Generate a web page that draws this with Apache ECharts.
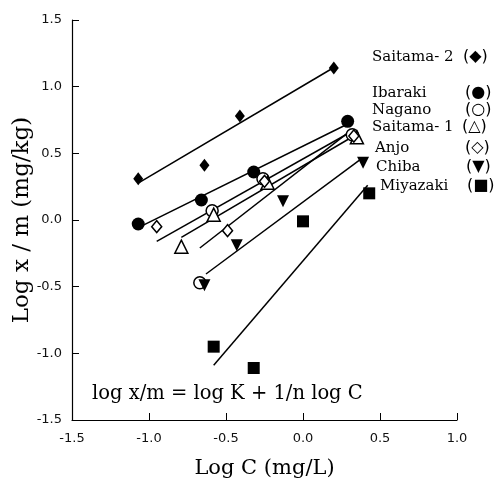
<!DOCTYPE html>
<html>
<head>
<meta charset="utf-8">
<script src="https://cdn.jsdelivr.net/npm/echarts@6/dist/echarts.min.js"></script>
<style>
  html, body { margin: 0; padding: 0; background: #fff; }
  #chart { width: 496px; height: 480px; }
</style>
</head>
<body>
<div id="chart"></div>
<script>
// sites in legend order
var sites = ["Saitama- 2", "Ibaraki", "Nagano", "Saitama- 1", "Anjo", "Chiba", "Miyazaki"];
var marks = ["◆", "●", "○", "△", "◇", "▼", "■"];

// measured points, [log C, log x/m]
var saitama2 = [[-1.07, 0.31], [-0.64, 0.41], [-0.41, 0.78], [0.20, 1.14]];
var ibaraki = [[-1.07, -0.03], [-0.66, 0.15], [-0.32, 0.36], [0.29, 0.74]];
var nagano = [[-0.67, -0.47], [-0.59, 0.07], [-0.26, 0.31], [0.32, 0.64]];
var saitama1 = [[-0.79, -0.20], [-0.58, 0.04], [-0.23, 0.28], [0.35, 0.62]];
var anjo = [[-0.95, -0.05], [-0.49, -0.08], [-0.25, 0.29], [0.33, 0.63]];
var chiba = [[-0.64, -0.49], [-0.43, -0.19], [-0.13, 0.14], [0.39, 0.43]];
var miyazaki = [[-0.58, -0.95], [-0.32, -1.11], [0.00, -0.01], [0.43, 0.20]];

// fitted lines, two ends each
var fitSaitama2 = [[-1.065, 0.28], [0.195, 1.14]];
var fitIbaraki = [[-1.04, -0.04], [0.29, 0.72]];
var fitNagano = [[-0.67, -0.21], [0.32, 0.68]];
var fitSaitama1 = [[-0.79, -0.13], [0.33, 0.63]];
var fitAnjo = [[-0.95, -0.16], [0.31, 0.66]];
var fitChiba = [[-0.63, -0.405], [0.38, 0.46]];
var fitMiyazaki = [[-0.58, -1.09], [0.42, 0.26]];

var serif = "'DejaVu Serif', 'Liberation Serif', serif";

var myChart = echarts.init(document.getElementById("chart"));

function pts(data, symbol, size, filled, rotate) {
    return {
        type: "scatter",
        data: data,
        symbol: symbol,
        symbolSize: size,
        symbolRotate: rotate || 0,
        itemStyle: {
            color: filled ? "#000" : "#fff",
            borderColor: "#000",
            borderWidth: filled ? 0 : 1.5,
            opacity: 1
        },
        z: 3
    };
}
function fit(data) {
    return {
        type: "line",
        data: data,
        symbol: "none",
        lineStyle: { color: "#000", width: 1.5 },
        z: 2
    };
}

var texts = [];
var legendY = [60, 96, 113, 130, 151, 170, 189];
var legendX = [372, 372, 372, 372, 375, 376, 380];
var markX = [463, 465, 465, 462, 465, 466, 467];
for (var i = 0; i < sites.length; i++) {
    texts.push({
        type: "text", left: legendX[i], top: legendY[i] - 10,
        style: { text: sites[i], font: "15px " + serif, fill: "#000" }
    });
    texts.push({
        type: "text", left: markX[i], top: legendY[i] - 11,
        style: { text: "(" + marks[i] + ")", font: "16px 'DejaVu Sans', sans-serif", fill: "#000" }
    });
}
texts.push({
    type: "text", left: 92, top: 384,
    style: { text: "log x/m = log K + 1/n log C", font: "19.5px " + serif, fill: "#000" }
});

var option = {
    backgroundColor: "#fff",
    animation: false,
    grid: { left: 72, right: 39, top: 20, bottom: 60, outerBoundsMode: "none" },
    xAxis: {
        type: "value",
        min: -1.5, max: 1.0, interval: 0.5,
        name: "Log C (mg/L)",
        nameLocation: "middle",
        nameGap: 38,
        nameTextStyle: { fontFamily: serif, fontSize: 21, color: "#000" },
        axisLine: { onZero: false, lineStyle: { color: "#000", width: 1.2 } },
        axisTick: { inside: true, length: 7, lineStyle: { color: "#000" } },
        axisLabel: {
            margin: 12, fontSize: 13, color: "#111", fontFamily: "'DejaVu Sans', sans-serif",
            formatter: function (v) { return v.toFixed(1); }
        },
        splitLine: { show: false }
    },
    yAxis: {
        type: "value",
        min: -1.5, max: 1.5, interval: 0.5,
        name: "Log x / m (mg/kg)",
        nameLocation: "middle",
        nameGap: 38,
        nameMoveOverlap: false,
        nameTextStyle: { fontFamily: serif, fontSize: 23, color: "#000" },
        axisLine: { onZero: false, lineStyle: { color: "#000", width: 1.2 } },
        axisTick: { inside: true, length: 7, lineStyle: { color: "#000" } },
        axisLabel: {
            margin: 10, fontSize: 13, color: "#111", fontFamily: "'DejaVu Sans', sans-serif",
            formatter: function (v) { return v.toFixed(1); }
        },
        splitLine: { show: false }
    },
    graphic: texts,
    series: [
        fit(fitSaitama2), fit(fitIbaraki), fit(fitNagano), fit(fitSaitama1),
        fit(fitAnjo), fit(fitChiba), fit(fitMiyazaki),
        pts(saitama2, "diamond", [10, 13], true),
        pts(ibaraki, "circle", 13, true),
        pts(nagano, "circle", 12, false),
        pts(saitama1, "triangle", 13, false),
        pts(anjo, "diamond", [10, 12], false),
        pts(chiba, "triangle", 12, true, 180),
        pts(miyazaki, "rect", 12, true)
    ]
};
myChart.setOption(option);
</script>
</body>
</html>
